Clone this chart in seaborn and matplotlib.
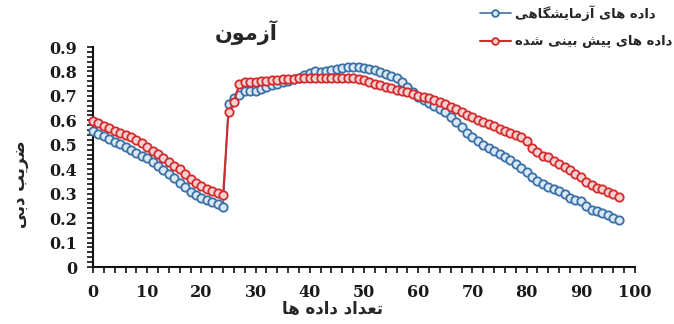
import numpy as np
import matplotlib
matplotlib.use("Agg")
import matplotlib.pyplot as plt
from matplotlib.ticker import MultipleLocator, FixedLocator, FixedFormatter
import seaborn as sns

# ---- data -------------------------------------------------------------
sample_index = list(range(98))

experimental = [
    0.555, 0.545, 0.535, 0.523, 0.512, 0.502, 0.490, 0.478, 0.466, 0.456,
    0.445, 0.428, 0.412, 0.397, 0.382, 0.365, 0.345, 0.328, 0.305, 0.295,
    0.283, 0.275, 0.266, 0.256, 0.245,
    0.665, 0.690, 0.705, 0.718, 0.722, 0.720, 0.728, 0.738, 0.745, 0.750, 0.755,
    0.762, 0.768, 0.775, 0.785, 0.795, 0.800, 0.798, 0.803, 0.806, 0.810, 0.815, 0.818,
    0.820, 0.818, 0.815, 0.812, 0.805, 0.798, 0.790, 0.780, 0.772, 0.755,
    0.735, 0.715, 0.695, 0.685, 0.672, 0.660, 0.648, 0.635, 0.615, 0.595, 0.572, 0.550,
    0.530, 0.515, 0.500, 0.488, 0.475, 0.462, 0.450, 0.437, 0.422, 0.405,
    0.388, 0.368, 0.350, 0.338, 0.328, 0.320, 0.310, 0.298, 0.283, 0.275,
    0.268, 0.250, 0.233, 0.228, 0.222, 0.212, 0.200, 0.192,
]

predicted = [
    0.596, 0.588, 0.578, 0.568, 0.558, 0.548, 0.540, 0.530, 0.520, 0.508,
    0.492, 0.475, 0.462, 0.445, 0.430, 0.415, 0.400, 0.382, 0.360, 0.345,
    0.332, 0.320, 0.312, 0.303, 0.296,
    0.633, 0.675, 0.750, 0.755, 0.757, 0.758, 0.760, 0.762, 0.764, 0.766, 0.768,
    0.770, 0.771, 0.772, 0.773, 0.774, 0.775, 0.775, 0.775, 0.775, 0.775, 0.775, 0.774,
    0.772, 0.770, 0.765, 0.758, 0.750, 0.744, 0.738, 0.732, 0.726, 0.720,
    0.715, 0.708, 0.700, 0.696, 0.690, 0.683, 0.676, 0.668, 0.655, 0.645, 0.635, 0.622,
    0.612, 0.602, 0.592, 0.584, 0.575, 0.565, 0.557, 0.550, 0.542, 0.530,
    0.515, 0.488, 0.470, 0.455, 0.448, 0.435, 0.422, 0.410, 0.395, 0.382,
    0.370, 0.348, 0.335, 0.325, 0.318, 0.308, 0.298, 0.286,
]

x_ticks = [0, 10, 20, 30, 40, 50, 60, 70, 80, 90, 100]
y_ticks = [0, 0.1, 0.2, 0.3, 0.4, 0.5, 0.6, 0.7, 0.8, 0.9]
y_tick_labels = ["0", "0.1", "0.2", "0.3", "0.4", "0.5", "0.6", "0.7", "0.8", "0.9"]

title_text = "آزمون"
x_label_text = "تعداد داده ها"
y_label_text = "ضریب دبی"
series_labels = ["داده های آزمایشگاهی", "داده های پیش بینی شده"]

# ---- minimal Persian shaping (contextual forms + visual order) ---------
FORMS = {
    "ا": ("\uFE8D", "\uFE8E", None, None),
    "آ": ("\uFE81", "\uFE82", None, None),
    "ب": ("\uFE8F", "\uFE90", "\uFE91", "\uFE92"),
    "پ": ("\uFB56", "\uFB57", "\uFB58", "\uFB59"),
    "ت": ("\uFE95", "\uFE96", "\uFE97", "\uFE98"),
    "د": ("\uFEA9", "\uFEAA", None, None),
    "ر": ("\uFEAD", "\uFEAE", None, None),
    "ز": ("\uFEAF", "\uFEB0", None, None),
    "ش": ("\uFEB5", "\uFEB6", "\uFEB7", "\uFEB8"),
    "ض": ("\uFEBD", "\uFEBE", "\uFEBF", "\uFEC0"),
    "ع": ("\uFEC9", "\uFECA", "\uFECB", "\uFECC"),
    "گ": ("\uFB92", "\uFB93", "\uFB94", "\uFB95"),
    "م": ("\uFEE1", "\uFEE2", "\uFEE3", "\uFEE4"),
    "ن": ("\uFEE5", "\uFEE6", "\uFEE7", "\uFEE8"),
    "ه": ("\uFEE9", "\uFEEA", "\uFEEB", "\uFEEC"),
    "و": ("\uFEED", "\uFEEE", None, None),
    "ی": ("\uFBFC", "\uFBFD", "\uFBFE", "\uFBFF"),
}


def shape(text):
    out = []
    n = len(text)
    for i, ch in enumerate(text):
        if ch not in FORMS:
            out.append(ch)
            continue
        iso, fin, ini, med = FORMS[ch]
        prev = text[i - 1] if i > 0 else ""
        nxt = text[i + 1] if i + 1 < n else ""
        join_prev = prev in FORMS and FORMS[prev][2] is not None
        join_next = ini is not None and nxt in FORMS
        if join_prev and join_next:
            out.append(med)
        elif join_prev:
            out.append(fin)
        elif join_next:
            out.append(ini)
        else:
            out.append(iso)
    return "".join(out)[::-1]


# ---- figure -------------------------------------------------------------
sns.set_style("ticks")
plt.rcParams["font.family"] = ["DejaVu Serif"]

W, H = 674, 324
fig = plt.figure(figsize=(W / 100, H / 100), dpi=100)
ax = fig.add_axes([93 / W, 1 - 267 / H, (635 - 93) / W, (267 - 47) / H])

blue_edge, blue_face = "#3b6fa6", "#d9e9f6"
red_edge, red_face = "#d42a2c", "#f7d2d2"

sns.lineplot(x=sample_index, y=experimental, ax=ax, color=blue_edge,
             linewidth=1.2, marker="o", markersize=6.0, markeredgewidth=1.3,
             markerfacecolor=blue_face, markeredgecolor=blue_edge,
             label=shape(series_labels[0]), clip_on=False, zorder=3)
sns.lineplot(x=sample_index, y=predicted, ax=ax, color=red_edge,
             linewidth=1.5, marker="o", markersize=6.0, markeredgewidth=1.3,
             markerfacecolor=red_face, markeredgecolor=red_edge,
             label=shape(series_labels[1]), clip_on=False, zorder=4)

ax.set_xlim(0, 100)
ax.set_ylim(0, 0.9)
ax.xaxis.set_major_locator(FixedLocator(x_ticks))
ax.xaxis.set_minor_locator(MultipleLocator(2))
ax.yaxis.set_major_locator(FixedLocator(y_ticks))
ax.yaxis.set_major_formatter(FixedFormatter(y_tick_labels))
ax.yaxis.set_minor_locator(MultipleLocator(0.02))

for s in ["top", "right"]:
    ax.spines[s].set_visible(False)
for s in ["left", "bottom"]:
    ax.spines[s].set_linewidth(1.5)
    ax.spines[s].set_color("#111111")

ax.tick_params(axis="both", which="both", direction="out", color="#111111",
               width=1.2, length=4)
ax.tick_params(axis="x", which="major", pad=8)
ax.tick_params(axis="y", which="major", pad=7.5)
for lab in ax.get_xticklabels() + ax.get_yticklabels():
    lab.set_fontweight("bold")
    lab.set_fontsize(11.5)
    lab.set_color("#1a1a1a")

ax.set_xlabel("")
ax.set_ylabel("")

arabic_font = ["DejaVu Sans"]
fig.text(246 / W, 1 - 33 / H, shape(title_text), family=arabic_font,
         fontweight="bold", fontsize=15, ha="center", va="center")
fig.text(333 / W, 1 - 309 / H, shape(x_label_text), family=arabic_font,
         fontweight="bold", fontsize=12, ha="center", va="center")
fig.text(20 / W, 1 - 184 / H, shape(y_label_text), family=arabic_font,
         fontweight="bold", fontsize=12, ha="center", va="center",
         rotation=90)

leg = ax.legend(loc="upper right", bbox_to_anchor=(672 / W, 1 - 5 / H),
                bbox_transform=fig.transFigure, frameon=False,
                prop={"family": arabic_font, "weight": "bold", "size": 9.5},
                handlelength=2.3, handletextpad=0.3, labelspacing=1.1,
                borderaxespad=0, borderpad=0, markerscale=0.8)

fig.savefig("out.png", dpi=100, facecolor="white")
